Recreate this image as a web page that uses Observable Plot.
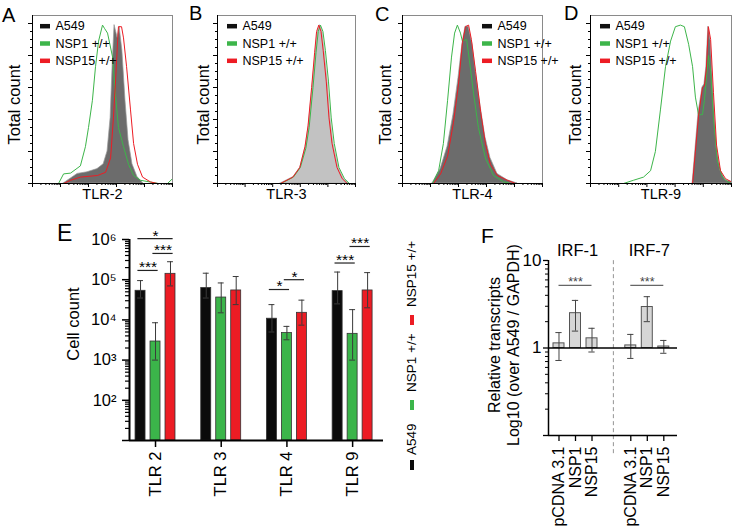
<!DOCTYPE html>
<html><head><meta charset="utf-8">
<script src="https://cdn.jsdelivr.net/npm/d3@7"></script>
<script src="https://cdn.jsdelivr.net/npm/@observablehq/plot@0.6"></script>
<style>
body{margin:0;background:#fff;}
#fig{position:relative;width:733px;height:529px;overflow:hidden;font-family:"Liberation Sans",Arial,sans-serif;color:#000;}
.pane{position:absolute;top:0;}
.pane svg{overflow:visible;}
.letter{position:absolute;font-size:20px;line-height:1;}
#legE{position:absolute;left:302px;top:353px;width:220px;height:14px;transform:rotate(-90deg);transform-origin:50% 50%;font-size:13.5px;}
#legE span{position:absolute;top:0;line-height:14px;white-space:nowrap;}
#legE .sw{top:5px;width:10px;height:4px;}
</style></head><body><div id="fig"></div>
<script>
// ---------- Histograms (A-D): [log10 intensity, normalized count] ----------
const histSeries = ["A549", "NSP1 +/+", "NSP15 +/+"];
const histColors = ["#111111", "#3db54a", "#ed1c24"];

const tlr2A549 = [[2.11,0],[2.61,0.06],[2.96,0.07],[3.32,0.09],[3.54,0.12],[3.68,0.2],[3.79,0.41],[3.86,0.73],[3.93,0.99],[4.04,0.91],[4.11,0.98],[4.21,0.83],[4.32,0.52],[4.43,0.27],[4.57,0.12],[4.75,0.04],[4.96,0]];
const tlr2NSP1 = [[1,0],[1.93,0],[2.11,0.06],[2.36,0.065],[2.71,0.11],[2.89,0.23],[3.0,0.35],[3.14,0.52],[3.25,0.73],[3.36,0.89],[3.5,0.99],[3.57,0.97],[3.68,0.94],[3.86,0.79],[3.96,0.56],[4.07,0.35],[4.25,0.23],[4.43,0.12],[4.61,0.05],[4.86,0.02],[5.5,0],[5.82,0],[6,0.03]];
const tlr2NSP15 = [[1,0],[2.11,0],[2.36,0.02],[2.71,0.04],[3.32,0.05],[3.61,0.07],[3.79,0.16],[3.89,0.41],[3.96,0.62],[4.04,0.89],[4.07,0.98],[4.18,0.98],[4.25,0.91],[4.36,0.73],[4.5,0.46],[4.61,0.25],[4.75,0.12],[4.93,0.04],[5.21,0.01],[5.46,0],[6,0]];

const tlr3A549 = [[3.28,0],[3.75,0.04],[4.0,0.1],[4.19,0.23],[4.3,0.35],[4.44,0.6],[4.55,0.81],[4.62,0.94],[4.71,0.99],[4.8,0.95],[4.88,0.83],[4.99,0.64],[5.09,0.41],[5.2,0.25],[5.38,0.1],[5.57,0.03],[5.75,0]];
const tlr3NSP1 = [[1,0],[3.3,0],[3.75,0.04],[4.0,0.1],[4.2,0.22],[4.32,0.35],[4.46,0.6],[4.57,0.82],[4.65,0.95],[4.73,0.99],[4.82,0.95],[4.91,0.83],[5.02,0.64],[5.12,0.41],[5.23,0.25],[5.4,0.1],[5.6,0.03],[5.78,0],[6,0]];
const tlr3NSP15 = [[1,0],[3.28,0],[3.73,0.04],[3.98,0.1],[4.17,0.23],[4.28,0.36],[4.41,0.6],[4.52,0.82],[4.59,0.95],[4.67,0.99],[4.75,0.95],[4.83,0.83],[4.94,0.64],[5.04,0.41],[5.15,0.25],[5.33,0.1],[5.52,0.03],[5.7,0],[6,0]];

const tlr4A549 = [[2.07,0],[2.36,0.09],[2.61,0.23],[2.82,0.43],[3.0,0.66],[3.14,0.87],[3.25,0.98],[3.36,0.98],[3.5,0.87],[3.61,0.71],[3.79,0.48],[3.96,0.29],[4.14,0.16],[4.39,0.06],[4.75,0.02],[5.11,0]];
const tlr4NSP1 = [[1,0],[2.07,0],[2.29,0.08],[2.46,0.25],[2.61,0.52],[2.75,0.79],[2.86,0.94],[2.96,0.99],[3.07,0.94],[3.14,0.89],[3.29,0.9],[3.39,0.77],[3.54,0.56],[3.71,0.35],[3.96,0.16],[4.25,0.05],[4.61,0.01],[4.86,0],[6,0]];
const tlr4NSP15 = [[1,0],[2.11,0],[2.36,0.06],[2.61,0.17],[2.82,0.38],[3.0,0.62],[3.14,0.88],[3.25,0.98],[3.36,0.99],[3.46,0.9],[3.61,0.7],[3.79,0.45],[3.96,0.25],[4.14,0.12],[4.39,0.05],[4.75,0.02],[5.04,0],[6,0]];

const tlr9A549 = [[4.62,0],[4.72,0.21],[4.83,0.44],[4.97,0.6],[5.04,0.62],[5.11,0.73],[5.18,0.98],[5.26,0.89],[5.36,0.56],[5.47,0.23],[5.61,0.08],[5.79,0.02],[6.0,0.01]];
const tlr9NSP1 = [[1,0],[2.17,0],[2.52,0.02],[2.88,0.04],[3.13,0.08],[3.3,0.2],[3.48,0.46],[3.66,0.73],[3.84,0.89],[4.01,0.98],[4.19,0.99],[4.33,0.98],[4.48,0.87],[4.62,0.73],[4.72,0.54],[4.83,0.43],[4.97,0.43],[5.04,0.52],[5.12,0.68],[5.18,0.8],[5.26,0.7],[5.36,0.41],[5.5,0.14],[5.68,0.04],[5.86,0.01],[6.0,0]];
const tlr9NSP15 = [[1,0],[4.62,0],[4.72,0.2],[4.83,0.42],[4.97,0.6],[5.04,0.61],[5.11,0.72],[5.18,0.98],[5.26,0.9],[5.36,0.57],[5.47,0.24],[5.61,0.08],[5.79,0.03],[6.0,0.01]];

// ---------- Panel E ----------
const groupsE = ["TLR 2", "TLR 3", "TLR 4", "TLR 9"];
const seriesE = ["A549", "NSP1 +/+", "NSP15 +/+"];
const colorsE = ["#0b0b0b", "#3bb54a", "#ec1c24"];
const a549E   = [5.3e4, 6.2e4, 1.07e4, 5.2e4];
const a549Lo  = [3.5e4, 3.5e4, 5.0e3, 2.5e4];
const a549Hi  = [9.5e4, 1.45e5, 2.4e4, 1.55e5];
const nsp1E   = [2.9e3, 3.6e4, 4.7e3, 4.5e3];
const nsp1Lo  = [1.0e3, 1.5e4, 3.2e3, 1.0e3];
const nsp1Hi  = [8.5e3, 8.3e4, 6.9e3, 1.8e4];
const nsp15E  = [1.4e5, 5.4e4, 1.5e4, 5.4e4];
const nsp15Lo = [7.0e4, 2.4e4, 7.4e3, 2.0e4];
const nsp15Hi = [2.8e5, 1.2e5, 3.1e4, 1.5e5];
const yTicksE = [1e2, 1e3, 1e4, 1e5, 1e6];
// significance: group index, from series, to series, level, label
const sigGroupE = [0, 0, 0, 2, 2, 3, 3];
const sigFromE  = [0, 1, 0, 0, 1, 0, 1];
const sigToE    = [2, 2, 1, 1, 2, 1, 2];
const sigLevelE = [1.05e6, 4.5e5, 1.7e5, 5.7e4, 1.0e5, 2.6e5, 6.7e5];
const sigLabelE = ["*", "***", "***", "*", "*", "***", "***"];

// ---------- Panel F ----------
const genesF = ["IRF-1", "IRF-7"];
const constructsF = ["pCDNA 3.1", "NSP1", "NSP15"];
const irf1F   = [1.13, 2.5, 1.29];
const irf1Lo  = [0.72, 1.56, 0.9];
const irf1Hi  = [1.5, 3.5, 1.68];
const irf7F   = [1.07, 2.94, 1.04];
const irf7Lo  = [0.76, 2.0, 0.87];
const irf7Hi  = [1.43, 3.86, 1.22];
const sigLevelF = [5.2, 5.2];
const sigLabelF = ["***", "***"];

// ---------------------------------------------------------------
const FONT = "'Liberation Sans', Arial, sans-serif";
const fig = document.getElementById("fig");
function pane(left, top, node) {
  const d = document.createElement("div");
  d.className = "pane"; d.style.left = left + "px"; d.style.top = top + "px";
  d.appendChild(node); fig.appendChild(d);
}
const rows = pairs => pairs.map(([u, n]) => ({u, n}));
const log10 = Math.log10;

function histogram({series, fill, edge, label, lx, W, mR, titleDx}) {
  const mL = 32, mT = 15, FH = 168, H = 205;
  const pxU = 5 / W, pxN = 1.05 / FH;
  const uMajor = [1, 2, 3, 4, 5, 6];
  const uMinor = [];
  for (let d = 1; d < 6; d++) for (let k = 2; k < 10; k++) uMinor.push(d + log10(k));
  const nMajor = [0, 0.2, 0.4, 0.6, 0.8, 1.0];
  const nMinor = [];
  for (let i = 1; i <= 20; i++) if (i % 4) nMinor.push(i * 0.05);
  const leg = histSeries.map((name, i) => ({name, color: histColors[i], n: 1.05 - (10.7 + 17.3 * i) * pxN}));
  return Plot.plot({
    width: mL + W + mR, height: H,
    marginLeft: mL, marginRight: mR, marginTop: mT, marginBottom: H - mT - FH,
    x: {domain: [1, 6], axis: null},
    y: {domain: [0, 1.05], axis: null},
    color: {type: "identity"},
    style: {fontFamily: FONT, fontSize: "12px", background: "transparent", overflow: "visible"},
    marks: [
      Plot.areaY(rows(series[0]), {x: "u", y: "n", fill, stroke: edge, strokeWidth: 0.7}),
      Plot.line(rows(series[1]), {x: "u", y: "n", stroke: histColors[1], strokeWidth: 1}),
      Plot.line(rows(series[2]), {x: "u", y: "n", stroke: histColors[2], strokeWidth: 1}),
      Plot.frame({stroke: "#8a8a8a", strokeWidth: 1}),
      Plot.ruleX([1], {stroke: "#000", strokeWidth: 1}),
      Plot.ruleY([0], {stroke: "#000", strokeWidth: 1}),
      Plot.axisY({ticks: nMajor, tickSize: 4, tickFormat: () => "", label: null}),
      Plot.axisY({ticks: nMinor, tickSize: 2, tickFormat: () => "", label: null}),
      Plot.axisX({ticks: uMajor, tickSize: 4, tickFormat: () => "", label: null}),
      Plot.axisX({ticks: uMinor, tickSize: 2, tickFormat: () => "", label: null}),
      Plot.ruleY(leg, {y: "n", x1: 1 + lx * pxU, x2: 1 + (lx + 10) * pxU, stroke: "color", strokeWidth: 4.5}),
      Plot.text(leg, {y: "n", x: 1 + (lx + 15) * pxU, text: "name", textAnchor: "start", fontSize: 12.5}),
      Plot.text([label], {frameAnchor: "bottom", textAnchor: "middle", dy: 15, fontSize: 14.5}),
      Plot.text(["Total count"], {frameAnchor: "left", textAnchor: "middle", rotate: -90, dx: titleDx, dy: 5, fontSize: 16.5})
    ]
  });
}

pane(0, 0, histogram({series: [tlr2A549, tlr2NSP1, tlr2NSP15], fill: "#6c6c6c", edge: "#9a9a9a", label: "TLR-2", lx: 8, W: 140, mR: 8, titleDx: -17.5}));
pane(185, 0, histogram({series: [tlr3A549, tlr3NSP1, tlr3NSP15], fill: "#c2c2c2", edge: "#b0b0b0", label: "TLR-3", lx: 10, W: 138, mR: 10, titleDx: -14}));
pane(370, 0, histogram({series: [tlr4A549, tlr4NSP1, tlr4NSP15], fill: "#6c6c6c", edge: "#9a9a9a", label: "TLR-4", lx: 80, W: 140, mR: 8, titleDx: -16.5}));
pane(558, 0, histogram({series: [tlr9A549, tlr9NSP1, tlr9NSP15], fill: "#6c6c6c", edge: "#9a9a9a", label: "TLR-9", lx: 10, W: 141, mR: 2, titleDx: -15}));

// ---------- Panel E plot ----------
{
  const sOff = [-0.228, 0, 0.228], hw = 0.076, cap = 0.045;
  const vals = [a549E, nsp1E, nsp15E], los = [a549Lo, nsp1Lo, nsp15Lo], his = [a549Hi, nsp1Hi, nsp15Hi];
  const eRows = [];
  groupsE.forEach((g, gi) => seriesE.forEach((s, si) => eRows.push({
    x: gi + sOff[si], v: vals[si][gi], lo: los[si][gi], hi: his[si][gi], color: colorsE[si]
  })));
  const sig = sigGroupE.map((g, i) => ({
    x1: g + sOff[sigFromE[i]] - 0.04, x2: g + sOff[sigToE[i]] + 0.04, y: sigLevelE[i], t: sigLabelE[i]
  }));
  const sup = {1: "¹", 2: "²", 3: "³", 4: "⁴", 5: "⁵", 6: "⁶"};
  const minors = [];
  for (let e = 1; e < 6; e++) for (let k = 2; k < 10; k++) minors.push(k * 10 ** e);
  const x0 = -0.396;
  pane(40, 200, Plot.plot({
    width: 390, height: 329, marginLeft: 89, marginRight: 47, marginTop: 39, marginBottom: 89,
    x: {domain: [x0, 3.47], axis: null},
    y: {type: "log", domain: [10, 1e6], axis: null},
    color: {type: "identity"},
    style: {fontFamily: FONT, fontSize: "15px", background: "transparent", overflow: "visible"},
    marks: [
      Plot.rectY(eRows, {x1: d => d.x - hw, x2: d => d.x + hw, y1: 10, y2: "v", fill: "color", stroke: "#333", strokeWidth: 0.8}),
      Plot.ruleX(eRows, {x: "x", y1: "lo", y2: "hi", stroke: "#3a3a3a", strokeWidth: 1}),
      Plot.ruleY(eRows, {y: "hi", x1: d => d.x - cap, x2: d => d.x + cap, stroke: "#3a3a3a", strokeWidth: 1}),
      Plot.ruleY(eRows, {y: "lo", x1: d => d.x - cap, x2: d => d.x + cap, stroke: "#3a3a3a", strokeWidth: 1}),
      Plot.ruleX([x0], {stroke: "#000", strokeWidth: 2}),
      Plot.ruleY([10], {stroke: "#000", strokeWidth: 2}),
      Plot.axisY({ticks: [10, ...yTicksE], tickSize: 7, tickPadding: 6, strokeWidth: 1.5, fontSize: 16.5,
                  tickFormat: d => d < 100 ? "" : "10" + sup[Math.round(log10(d))], label: null}),
      Plot.axisY({ticks: minors, tickSize: 4, strokeWidth: 1.2, tickFormat: () => "", label: null}),
      Plot.axisX({ticks: [0, 1, 2, 3], tickSize: 7, tickPadding: 4, strokeWidth: 1.5, tickRotate: -90, fontSize: 16.5,
                  tickFormat: i => groupsE[i], label: null}),
      Plot.ruleY(sig, {y: "y", x1: "x1", x2: "x2", stroke: "#222", strokeWidth: 1.2}),
      Plot.text(sig, {x: d => (d.x1 + d.x2) / 2, y: "y", text: "t", dy: -3, fontSize: 15.5}),
      Plot.text(["Cell count"], {frameAnchor: "left", textAnchor: "middle", rotate: -90, dx: -56, dy: -16, fontSize: 16.5})
    ]
  }));
}

// ---------- Panel F plot ----------
{
  const fPos = (gi, ci) => gi * 4.35 + ci;
  const vals = [irf1F, irf7F], los = [irf1Lo, irf7Lo], his = [irf1Hi, irf7Hi];
  const fRows = [];
  genesF.forEach((g, gi) => constructsF.forEach((c, ci) => fRows.push({
    x: fPos(gi, ci), c, v: vals[gi][ci], lo: los[gi][ci], hi: his[gi][ci]
  })));
  const labelAt = new Map(fRows.map(d => [d.x, d.c]));
  const hw = 0.333, cap = 0.19, x0 = -0.636;
  const sig = genesF.map((g, gi) => ({x1: fPos(gi, 0), x2: fPos(gi, 2), y: sigLevelF[gi], t: sigLabelF[gi]}));
  const heads = genesF.map((g, gi) => ({g, x: fPos(gi, 1)}));
  const minors = [];
  for (const e of [-1, 0]) for (let k = 2; k < 10; k++) minors.push(k * 10 ** e);
  pane(430, 200, Plot.plot({
    width: 303, height: 329, marginLeft: 118, marginRight: 56, marginTop: 60, marginBottom: 94,
    x: {domain: [x0, 7.18], axis: null},
    y: {type: "log", domain: [0.1, 10], axis: null},
    style: {fontFamily: FONT, fontSize: "15px", background: "transparent", overflow: "visible"},
    marks: [
      Plot.ruleX([(fPos(0, 2) + fPos(1, 0)) / 2 + 0.12], {y1: 0.062, y2: 10.5, stroke: "#888", strokeWidth: 0.9, strokeDasharray: "4 3"}),
      Plot.rectY(fRows, {x1: d => d.x - hw, x2: d => d.x + hw, y1: 1, y2: "v", fill: "#d6d6d6", stroke: "#555", strokeWidth: 1}),
      Plot.ruleX(fRows, {x: "x", y1: "lo", y2: "hi", stroke: "#444", strokeWidth: 1}),
      Plot.ruleY(fRows, {y: "hi", x1: d => d.x - cap, x2: d => d.x + cap, stroke: "#444", strokeWidth: 1}),
      Plot.ruleY(fRows, {y: "lo", x1: d => d.x - cap, x2: d => d.x + cap, stroke: "#444", strokeWidth: 1}),
      Plot.ruleY([1], {stroke: "#000", strokeWidth: 1.5}),
      Plot.ruleX([x0], {stroke: "#000", strokeWidth: 1.5}),
      Plot.ruleY([0.1], {stroke: "#000", strokeWidth: 1.5}),
      Plot.axisY({ticks: [0.1, 1, 10], tickSize: 5, tickPadding: 2, strokeWidth: 1.3, fontSize: 17,
                  tickFormat: d => d < 1 ? "" : String(d), label: null}),
      Plot.axisY({ticks: minors, tickSize: 3, strokeWidth: 1, tickFormat: () => "", label: null}),
      Plot.axisX({ticks: fRows.map(d => d.x), tickSize: 6, tickPadding: 5, strokeWidth: 1.3, tickRotate: -90, fontSize: 16,
                  tickFormat: x => labelAt.get(x), label: null}),
      Plot.ruleY(sig, {y: "y", x1: "x1", x2: "x2", stroke: "#666", strokeWidth: 1.2}),
      Plot.text(sig, {x: d => (d.x1 + d.x2) / 2, y: "y", text: "t", dy: -3, fontSize: 12.5, fill: "#444"}),
      Plot.text(heads, {x: "x", y: 10, text: "g", dy: -10, dx: 2, fontSize: 16.5}),
      Plot.text(["Relative transcripts\nLog10 (over A549 / GAPDH)"], {frameAnchor: "left", textAnchor: "middle", rotate: -90, dx: -45.5, dy: -3, fontSize: 16, lineHeight: 1.2})
    ]
  }));
}

// ---------- Legend for E (rotated) ----------
{
  const leg = document.createElement("div");
  leg.id = "legE";
  const swPos = [0, 60, 145], txtPos = [15, 78, 163];
  seriesE.forEach((s, i) => {
    const sw = document.createElement("span");
    sw.className = "sw"; sw.style.left = swPos[i] + "px"; sw.style.background = colorsE[i];
    const t = document.createElement("span");
    t.style.left = txtPos[i] + "px"; t.textContent = s;
    leg.appendChild(sw); leg.appendChild(t);
  });
  fig.appendChild(leg);
}

// ---------- Panel letters ----------
[["A", 2, 5, 20], ["B", 189, 3, 20], ["C", 375, 4, 20], ["D", 564, 3, 20], ["E", 57, 222, 23], ["F", 481, 225, 21]].forEach(([t, x, y, s]) => {
  const d = document.createElement("div");
  d.className = "letter"; d.textContent = t;
  d.style.left = x + "px"; d.style.top = y + "px"; d.style.fontSize = s + "px";
  fig.appendChild(d);
});
</script></body></html>
